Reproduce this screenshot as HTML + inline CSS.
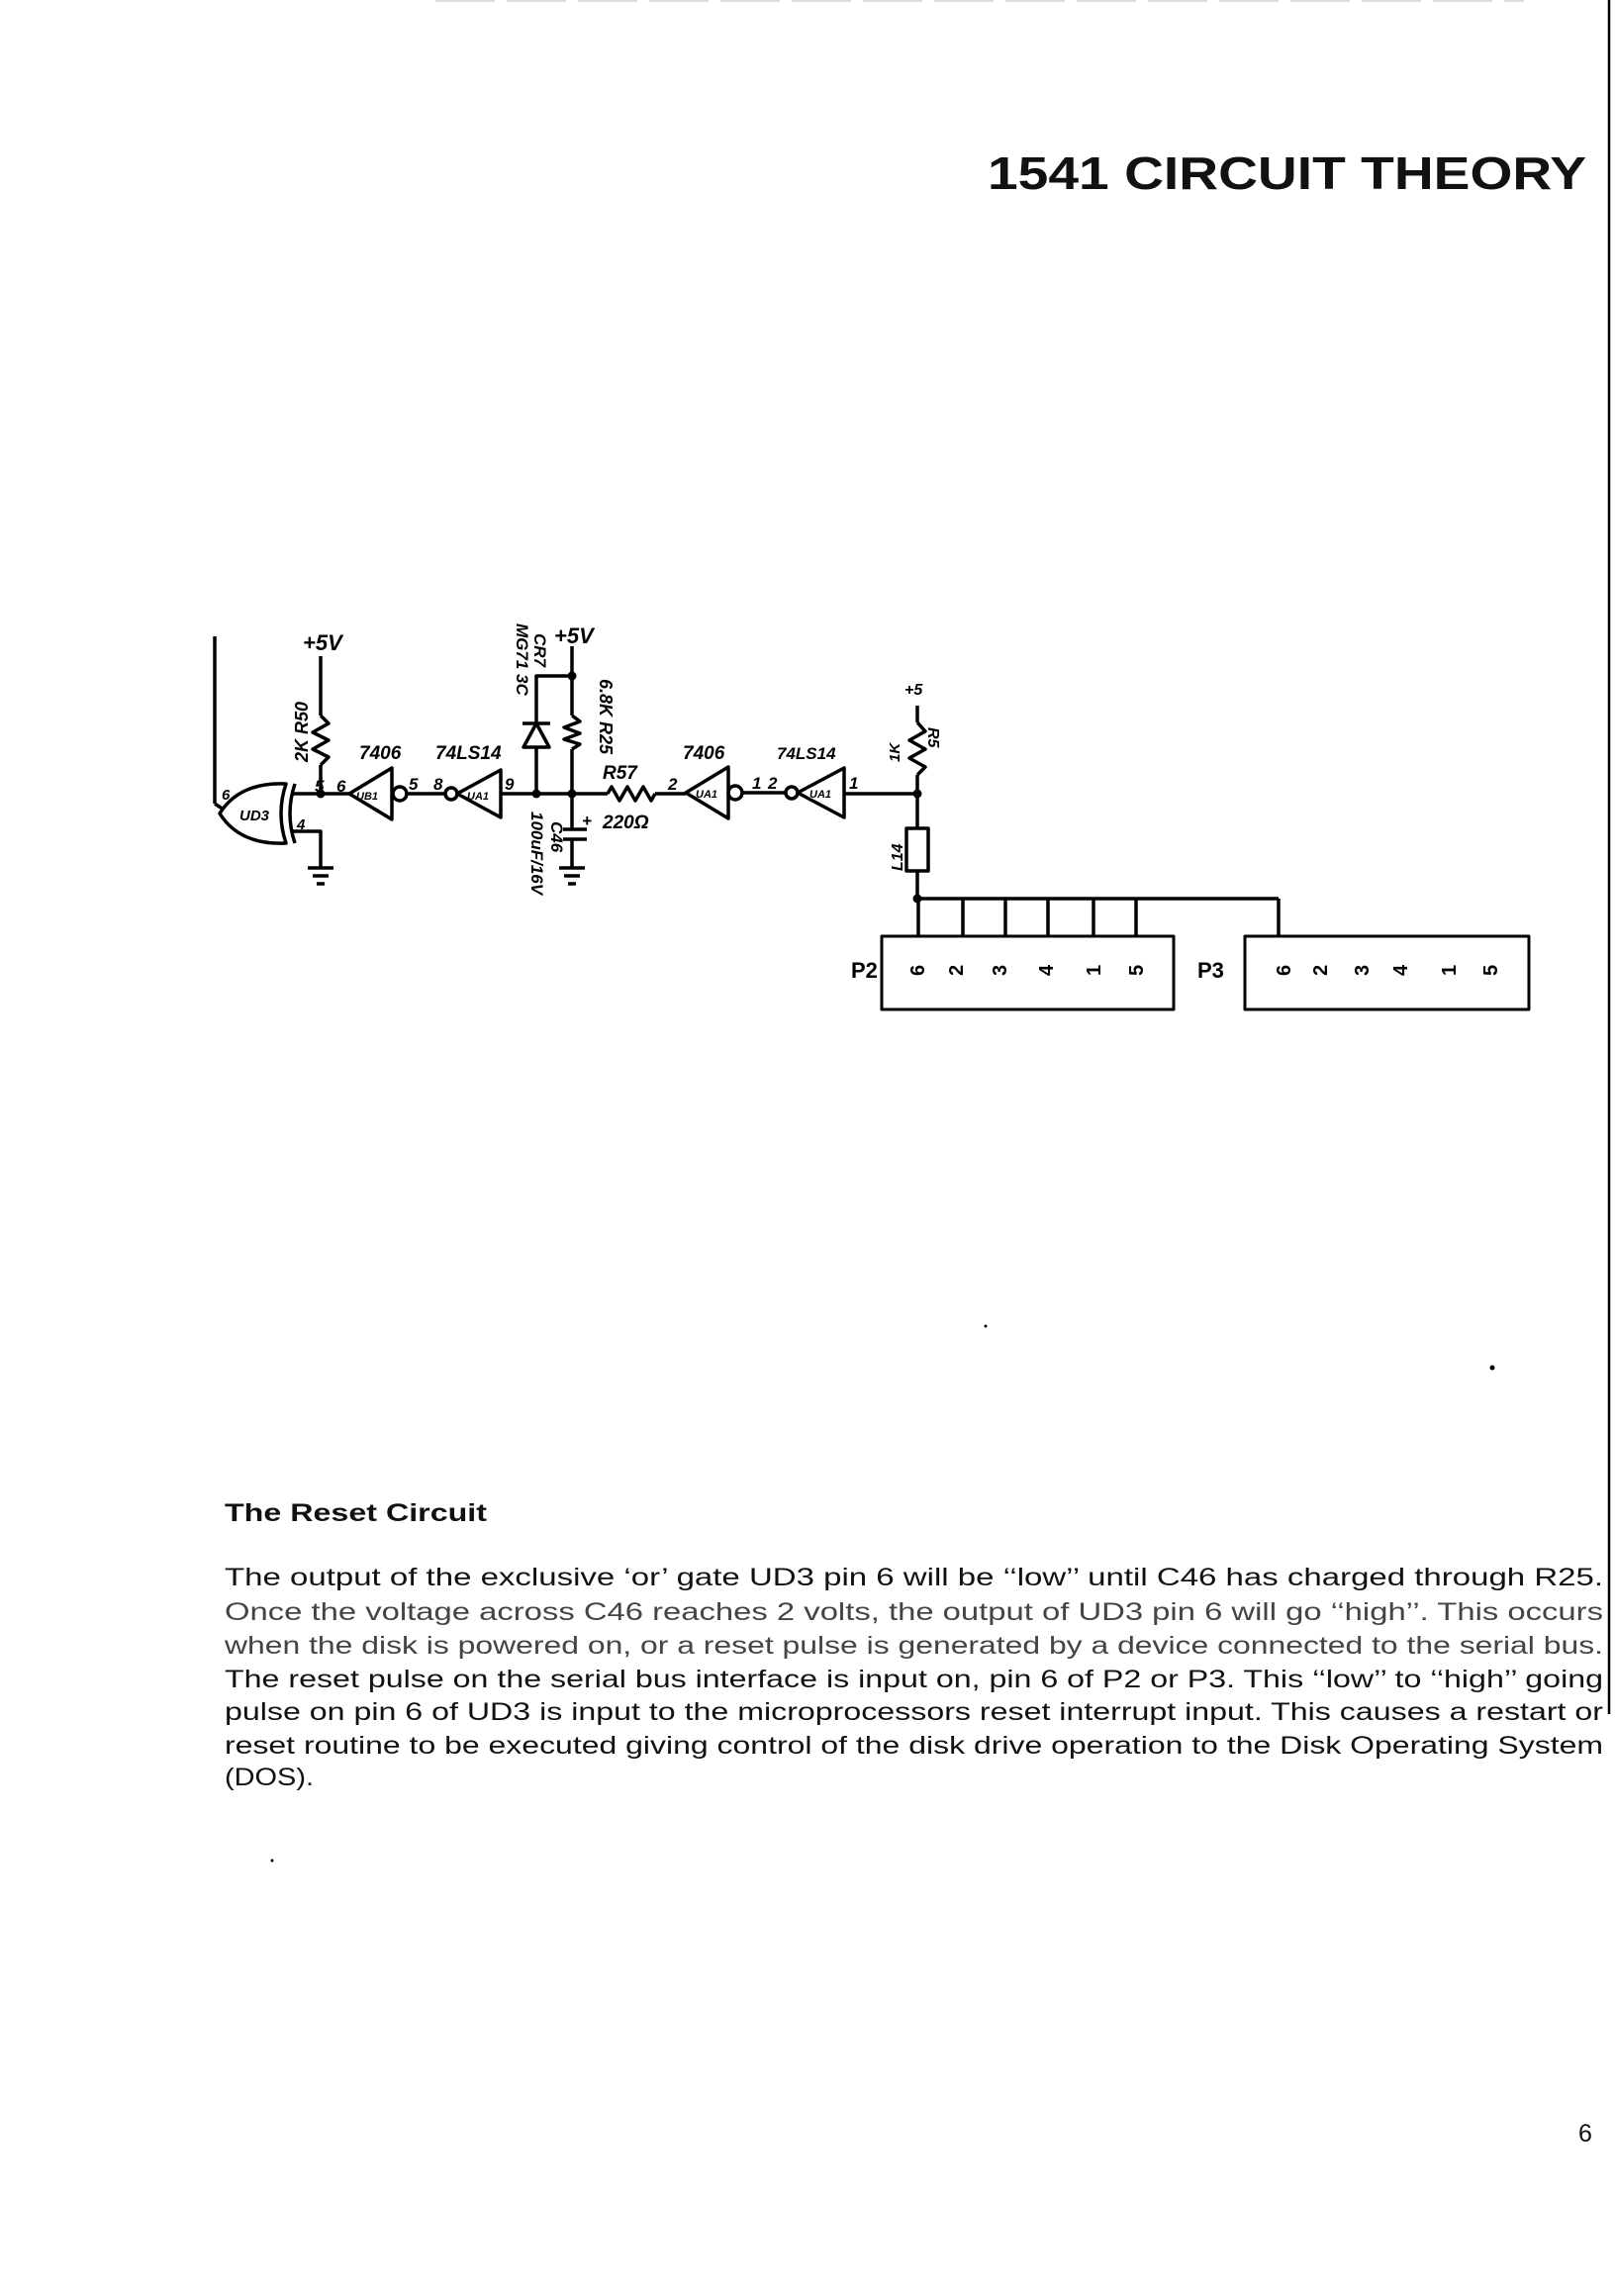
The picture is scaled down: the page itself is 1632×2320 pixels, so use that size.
<!DOCTYPE html>
<html><head><meta charset="utf-8"><style>
html,body{margin:0;padding:0;background:#fff;}
svg{display:block;}
</style></head><body>
<svg width="1632" height="2320" viewBox="0 0 1632 2320" xmlns="http://www.w3.org/2000/svg">
<rect width="1632" height="2320" fill="#fff"/>
<line x1="440" y1="1" x2="1540" y2="1" stroke="#bbb" stroke-width="1" stroke-dasharray="60 12"/>
<line x1="1626" y1="0" x2="1626" y2="1732" stroke="#000" stroke-width="2.5"/>
<text x="998" y="191" font-family="Liberation Sans, sans-serif" font-weight="bold" font-size="46" textLength="605" lengthAdjust="spacingAndGlyphs" fill="#111">1541 CIRCUIT THEORY</text>

<g stroke="#000" stroke-width="3.5" fill="none" stroke-linejoin="round">
<line x1="217" y1="643" x2="217" y2="812"/>
<line x1="217" y1="812" x2="226" y2="818"/>
<path d="M289,792 Q242,790 222,822 Q242,854 289,852 Q279,822 289,792 Z"/>
<path d="M298,792 Q288,822 298,852"/>
<line x1="296" y1="802" x2="353" y2="802"/>
<polyline points="294,840 324,840 324,877"/>
<line x1="324" y1="663" x2="324" y2="723"/>
<polyline points="324,723 332,731 316,740 332,748 316,757 332,765 324,773"/>
<line x1="324" y1="773" x2="324" y2="802"/>
<line x1="311" y1="877" x2="337" y2="877"/>
<line x1="316" y1="885" x2="332" y2="885"/>
<line x1="320" y1="893" x2="328" y2="893"/>
<polygon points="353,802 396,776 396,828"/>
<circle cx="404" cy="802" r="7"/>
<line x1="411" y1="802" x2="450" y2="802"/>
<circle cx="456" cy="802" r="6"/>
<polygon points="462,802 506,778 506,826"/>
<line x1="506" y1="802" x2="614" y2="802"/>
<polyline points="542,802 542,683 578,683"/>
<polygon points="542,731 529,755 555,755" fill="#fff"/>
<line x1="528" y1="731" x2="556" y2="731"/>
<line x1="578" y1="653" x2="578" y2="723"/>
<polyline points="578,723 586,729 570,735 586,741 570,747 586,752 578,757"/>
<line x1="578" y1="757" x2="578" y2="838"/>
<line x1="569" y1="838" x2="593" y2="838"/>
<line x1="569" y1="848" x2="593" y2="848"/>
<line x1="578" y1="848" x2="578" y2="877"/>
<line x1="565" y1="877" x2="591" y2="877"/>
<line x1="570" y1="885" x2="586" y2="885"/>
<line x1="574" y1="893" x2="582" y2="893"/>
<polyline points="614,802 618,795 626,809 634,795 642,809 650,795 658,809 662,802"/>
<line x1="662" y1="802" x2="693" y2="802"/>
<polygon points="693,801 736,775 736,827"/>
<circle cx="743" cy="801" r="7"/>
<line x1="750" y1="801" x2="794" y2="801"/>
<circle cx="800" cy="801" r="6"/>
<polygon points="806,801 853,776 853,826"/>
<line x1="853" y1="802" x2="927" y2="802"/>
<line x1="927" y1="713" x2="927" y2="730"/>
<polyline points="927,730 935,739 919,748 935,757 919,766 935,775 927,783"/>
<line x1="927" y1="783" x2="927" y2="837"/>
<rect x="916" y="837" width="22" height="43"/>
<line x1="927" y1="880" x2="927" y2="908"/>
<line x1="927" y1="908" x2="1292" y2="908"/>
<line x1="928" y1="908" x2="928" y2="946"/>
<line x1="973" y1="908" x2="973" y2="946"/>
<line x1="1016" y1="908" x2="1016" y2="946"/>
<line x1="1059" y1="908" x2="1059" y2="946"/>
<line x1="1105" y1="908" x2="1105" y2="946"/>
<line x1="1148" y1="908" x2="1148" y2="946"/>
<line x1="1292" y1="908" x2="1292" y2="946"/>
<rect x="891" y="946" width="295" height="74" stroke-width="3"/>
<rect x="1258" y="946" width="287" height="74" stroke-width="3"/>
</g>
<g fill="#000">
<circle cx="324" cy="802" r="4.5"/><circle cx="542" cy="802" r="4.5"/><circle cx="578" cy="802" r="4.5"/>
<circle cx="578" cy="683" r="4.5"/><circle cx="927" cy="802" r="4.5"/><circle cx="927" cy="908" r="4.5"/>
<circle cx="1508" cy="1382" r="2.5"/><circle cx="996" cy="1340" r="1.5"/><circle cx="275" cy="1880" r="1.5"/>
</g>
<g font-family="Liberation Sans, sans-serif" font-style="italic" font-weight="bold" fill="#000">
<text x="306" y="657" font-size="22">+5V</text>
<text x="560" y="650" font-size="22">+5V</text>
<text x="914" y="702" font-size="16">+5</text>
<text x="363" y="767" font-size="19">7406</text>
<text x="440" y="767" font-size="19">74LS14</text>
<text x="690" y="767" font-size="19">7406</text>
<text x="785" y="767" font-size="17">74LS14</text>
<text x="609" y="787" font-size="19">R57</text>
<text x="609" y="837" font-size="19">220Ω</text>
<text x="588" y="835" font-size="17">+</text>
<text x="318" y="800" font-size="17">5</text>
<text x="340" y="800" font-size="17">6</text>
<text x="413" y="798" font-size="17">5</text>
<text x="438" y="798" font-size="17">8</text>
<text x="510" y="798" font-size="17">9</text>
<text x="675" y="798" font-size="17">2</text>
<text x="760" y="797" font-size="17">1</text>
<text x="776" y="797" font-size="17">2</text>
<text x="858" y="797" font-size="17">1</text>
<text x="224" y="808" font-size="15">6</text>
<text x="300" y="838" font-size="15">4</text>
<text x="242" y="829" font-size="15">UD3</text>
<text x="360" y="808" font-size="11">UB1</text>
<text x="472" y="808" font-size="11">UA1</text>
<text x="703" y="806" font-size="11">UA1</text>
<text x="818" y="806" font-size="11">UA1</text>
<text transform="translate(311,770) rotate(-90)" font-size="18">2K R50</text>
<text transform="translate(606,686) rotate(90)" font-size="18">6.8K R25</text>
<text transform="translate(522,630) rotate(90)" font-size="17">MG71 3C</text>
<text transform="translate(540,640) rotate(90)" font-size="17">CR7</text>
<text transform="translate(537,820) rotate(90)" font-size="17">100uF/16V</text>
<text transform="translate(557,830) rotate(90)" font-size="17">C46</text>
<text transform="translate(909,770) rotate(-90)" font-size="15">1K</text>
<text transform="translate(938,735) rotate(90)" font-size="16">R5</text>
<text transform="translate(912,880) rotate(-90)" font-size="16">L14</text>
</g>
<g font-family="Liberation Sans, sans-serif" font-weight="bold" font-size="20" fill="#000">
<text x="860" y="988" font-size="22">P2</text>
<text x="1210" y="988" font-size="22">P3</text>
<text transform="translate(934,986) rotate(-90)">6</text>
<text transform="translate(973,986) rotate(-90)">2</text>
<text transform="translate(1017,986) rotate(-90)">3</text>
<text transform="translate(1064,986) rotate(-90)">4</text>
<text transform="translate(1112,986) rotate(-90)">1</text>
<text transform="translate(1155,986) rotate(-90)">5</text>
<text transform="translate(1304,986) rotate(-90)">6</text>
<text transform="translate(1341,986) rotate(-90)">2</text>
<text transform="translate(1383,986) rotate(-90)">3</text>
<text transform="translate(1422,986) rotate(-90)">4</text>
<text transform="translate(1471,986) rotate(-90)">1</text>
<text transform="translate(1513,986) rotate(-90)">5</text>
</g>
<g font-family="Liberation Sans, sans-serif" fill="#111">
<text x="227" y="1537" font-size="25" font-weight="bold" textLength="265" lengthAdjust="spacingAndGlyphs">The Reset Circuit</text>
<g font-size="25">
<text x="227" y="1602" textLength="1393" lengthAdjust="spacingAndGlyphs">The output of the exclusive ‘or’ gate UD3 pin 6 will be ‘‘low’’ until C46 has charged through R25.</text>
<text x="227" y="1637" textLength="1393" lengthAdjust="spacingAndGlyphs" fill="#444">Once the voltage across C46 reaches 2 volts, the output of UD3 pin 6 will go ‘‘high’’. This occurs</text>
<text x="227" y="1671" textLength="1393" lengthAdjust="spacingAndGlyphs" fill="#444">when the disk is powered on, or a reset pulse is generated by a device connected to the serial bus.</text>
<text x="227" y="1705" textLength="1393" lengthAdjust="spacingAndGlyphs">The reset pulse on the serial bus interface is input on, pin 6 of P2 or P3. This ‘‘low’’ to ‘‘high’’ going</text>
<text x="227" y="1738" textLength="1393" lengthAdjust="spacingAndGlyphs">pulse on pin 6 of UD3 is input to the microprocessors reset interrupt input. This causes a restart or</text>
<text x="227" y="1772" textLength="1393" lengthAdjust="spacingAndGlyphs">reset routine to be executed giving control of the disk drive operation to the Disk Operating System</text>
<text x="227" y="1804" textLength="90" lengthAdjust="spacingAndGlyphs">(DOS).</text>
</g>
<text x="1595" y="2164" font-size="25">6</text>
</g>
</svg>
</body></html>
